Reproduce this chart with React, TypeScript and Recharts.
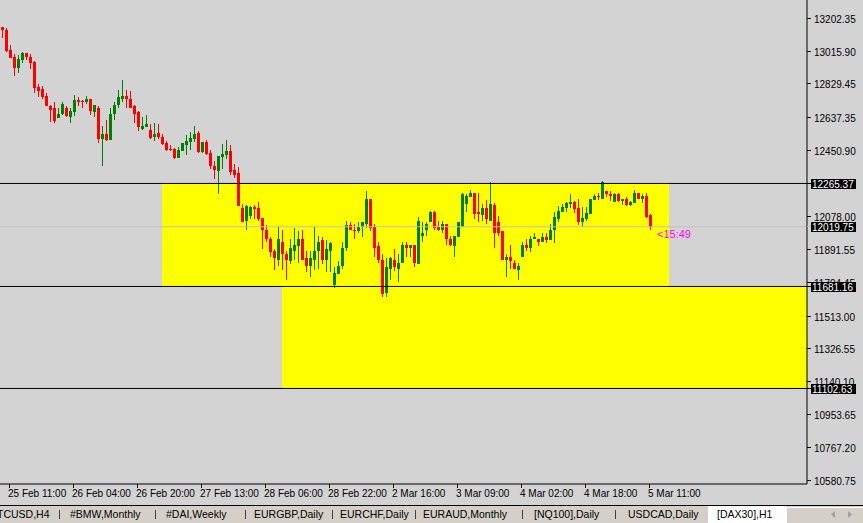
import { ComposedChart, Bar, XAxis, YAxis, ReferenceArea, ReferenceLine, ReferenceDot } from 'recharts'

// [DAX30],H1 candles, oldest first
const opens = [
  13150, 13133, 13020, 12980, 12919, 12965, 13003, 12984, 12952, 12810, 12799, 12759, 12706, 12691, 12636, 12657, 12696, 12640, 12668, 12736,
  12732, 12725, 12747, 12668, 12696, 12515, 12543, 12509, 12657, 12713, 12742, 12759, 12747, 12702, 12668, 12577, 12585, 12566, 12526, 12549,
  12526, 12492, 12462, 12462, 12409, 12449, 12481, 12500, 12515, 12549, 12441, 12498, 12436, 12367, 12335, 12413, 12424, 12447, 12339, 12322,
  12124, 12055, 12078, 12129, 12124, 12067, 12004, 11953, 11880, 11834, 11936, 11868, 11823, 11885, 11908, 11953, 11840, 11795, 11834, 11885,
  11942, 11829, 11880, 11687, 11749, 11795, 11897, 12027, 12004, 11993, 12016, 12038, 12175, 12016, 11908, 11834, 11643, 11783, 11834, 11783,
  11817, 11919, 11902, 11914, 11806, 11970, 12004, 12044, 12101, 12016, 11999, 12033, 11953, 11908, 11959, 12021, 12146, 12186, 12214, 12101,
  12084, 12124, 12055, 12141, 12044, 11993, 11829, 11851, 11812, 11772, 11846, 11914, 11897, 11948, 11953, 11936, 11959, 11942, 11999, 12061,
  12101, 12124, 12146, 12158, 12124, 12044, 12061, 12090, 12169, 12197, 12180, 12220, 12203, 12158, 12203, 12163, 12180, 12141, 12152, 12214,
  12175, 12197, 12084,
]
const highs = [
  13150, 13145, 13048, 12997, 12995, 13012, 13008, 12997, 12961, 12827, 12816, 12776, 12713, 12725, 12691, 12725, 12706, 12691, 12765, 12753,
  12740, 12759, 12747, 12713, 12702, 12589, 12623, 12691, 12725, 12798, 12850, 12798, 12787, 12708, 12679, 12640, 12651, 12602, 12611, 12600,
  12543, 12504, 12481, 12466, 12471, 12492, 12539, 12555, 12594, 12562, 12498, 12509, 12453, 12390, 12419, 12487, 12509, 12481, 12373, 12356,
  12146, 12141, 12135, 12141, 12158, 12067, 12027, 11959, 11891, 12021, 12004, 11880, 11948, 12010, 11993, 12004, 11880, 11880, 12016, 11965,
  11959, 11942, 11936, 11789, 11823, 11931, 12055, 12044, 12033, 12044, 12044, 12220, 12175, 12038, 11936, 11863, 11840, 11846, 11891, 11863,
  11936, 11936, 11919, 11919, 12073, 12044, 12044, 12107, 12107, 12050, 12055, 12033, 11970, 11965, 12044, 12209, 12203, 12226, 12214, 12214,
  12146, 12169, 12271, 12152, 12078, 11993, 11863, 11919, 11834, 11812, 11936, 11948, 11965, 11982, 11953, 11982, 11982, 12033, 12101, 12135,
  12146, 12158, 12203, 12163, 12175, 12129, 12129, 12175, 12203, 12209, 12282, 12220, 12220, 12209, 12209, 12180, 12186, 12163, 12226, 12214,
  12203, 12209, 12090,
]
const lows = [
  13090, 13010, 12976, 12874, 12891, 12948, 12965, 12914, 12778, 12755, 12747, 12704, 12613, 12606, 12636, 12651, 12645, 12607, 12647, 12702,
  12691, 12717, 12651, 12640, 12492, 12363, 12504, 12509, 12623, 12691, 12730, 12691, 12691, 12607, 12564, 12568, 12585, 12517, 12505, 12515,
  12483, 12451, 12449, 12405, 12409, 12449, 12426, 12453, 12498, 12437, 12436, 12428, 12346, 12288, 12203, 12345, 12402, 12311, 12299, 12135,
  12044, 12004, 12061, 12061, 12055, 11891, 11936, 11846, 11772, 11800, 11772, 11715, 11806, 11829, 11817, 11829, 11761, 11732, 11772, 11783,
  11806, 11761, 11761, 11670, 11749, 11783, 11885, 11999, 11948, 11987, 11959, 12010, 11993, 11851, 11812, 11624, 11624, 11715, 11766, 11704,
  11812, 11846, 11846, 11789, 11806, 11936, 11965, 12044, 12004, 11993, 11987, 11919, 11908, 11846, 11959, 12021, 12101, 12186, 12061, 12044,
  12055, 12038, 12055, 11902, 11965, 11829, 11732, 11783, 11778, 11715, 11846, 11880, 11874, 11948, 11908, 11931, 11925, 11942, 11925, 12044,
  12101, 12101, 12124, 12095, 12027, 12021, 12050, 12090, 12169, 12169, 12180, 12186, 12163, 12158, 12158, 12141, 12135, 12135, 12152, 12175,
  12152, 12067, 12004,
]
const closes = [
  13135, 13014, 12976, 12919, 12969, 13007, 12982, 12948, 12806, 12789, 12755, 12704, 12683, 12617, 12662, 12714, 12647, 12674, 12736, 12725,
  12725, 12746, 12674, 12708, 12515, 12543, 12509, 12662, 12713, 12753, 12759, 12742, 12692, 12662, 12587, 12590, 12600, 12521, 12543, 12526,
  12488, 12457, 12454, 12407, 12453, 12492, 12504, 12521, 12543, 12441, 12498, 12430, 12362, 12339, 12419, 12430, 12447, 12333, 12311, 12140,
  12044, 12135, 12129, 12118, 12061, 11999, 11948, 11874, 11840, 11948, 11863, 11829, 11897, 11914, 11953, 11834, 11795, 11840, 11885, 11936,
  11829, 11891, 11925, 11755, 11795, 11902, 12027, 12004, 11993, 12016, 12044, 12180, 12010, 11902, 11829, 11636, 11791, 11840, 11789, 11817,
  11919, 11902, 11914, 11812, 12055, 11982, 12033, 12101, 12010, 11999, 12033, 11953, 11914, 11965, 12044, 12203, 12192, 12214, 12090, 12090,
  12124, 12061, 12146, 11987, 11987, 11834, 11846, 11823, 11783, 11800, 11914, 11897, 11953, 11959, 11936, 11959, 11942, 12004, 12073, 12107,
  12129, 12152, 12158, 12118, 12044, 12067, 12095, 12175, 12197, 12186, 12271, 12203, 12192, 12203, 12163, 12180, 12141, 12158, 12214, 12180,
  12197, 12073, 12019.75,
]

// empty hourly slots kept to the right of the last bar (chart shift)
const futureBars = 38

const timeTickBars = [2, 18, 34, 50, 66, 82, 98, 114, 130, 146, 162]
const timeTickLabels = [
  '25 Feb 11:00', '26 Feb 04:00', '26 Feb 20:00', '27 Feb 13:00', '28 Feb 06:00', '28 Feb 22:00',
  '2 Mar 16:00', '3 Mar 09:00', '4 Mar 02:00', '4 Mar 18:00', '5 Mar 11:00',
]
const priceTicks = [
  13202.35, 13015.9, 12829.45, 12637.35, 12450.9, 12078.0, 11891.55, 11704.45, 11513.0, 11326.55, 11140.1, 10953.65,
  10767.2, 10580.75,
]
const levelPrices = [12265.37, 11681.16, 11102.63]
const bidPrice = 12019.75
const barTimer = '<15:49'

// rectangles: [from bar, to bar, upper price, lower price]
const zones: [number, number, number, number][] = [
  [40, 166.75, 12265.37, 11681.16],
  [70, 201.25, 11681.16, 11102.63],
]

const tabs = ['BTCUSD,H4', '#BMW,Monthly', '#DAI,Weekly', 'EURGBP,Daily', 'EURCHF,Daily', 'EURAUD,Monthly', '[NQ100],Daily', 'USDCAD,Daily', '[DAX30],H1']

const FONT = '"Liberation Sans", Arial, sans-serif'
const BG = '#d3d3d3'

const data = Array.from({ length: opens.length + futureBars }, (_, i) =>
  i < opens.length
    ? { i, o: opens[i], h: highs[i], l: lows[i], c: closes[i], range: [lows[i], highs[i]] }
    : { i },
)

function Candle(props: any) {
  const { x, width, payload } = props
  let { y, height } = props
  if (!payload || payload.o == null || y == null || height == null) return null
  if (height < 0) {
    y += height
    height = -height
  }
  const { o, h, l, c } = payload
  const cx = Math.round(x + width / 2)
  const span = h - l || 1
  const yAt = (v: number) => y + ((h - v) / span) * height
  const wickTop = Math.round(y)
  const wickBottom = Math.round(y + height)
  const top = Math.round(yAt(Math.max(o, c)))
  const bottom = Math.round(yAt(Math.min(o, c)))
  const color = c >= o ? '#008000' : '#ff0000'
  return (
    <g>
      <rect x={cx} y={wickTop} width={1} height={Math.max(1, wickBottom - wickTop)} fill={color} />
      <rect x={cx - 1} y={top} width={3} height={Math.max(1, bottom - top)} fill={color} />
    </g>
  )
}

function TimeTick({ x, y, payload }: any) {
  const idx = timeTickBars.indexOf(payload.value)
  const px = Math.floor(x) - 0.5
  return (
    <g>
      <line x1={px} x2={px} y1={y} y2={y + 4} stroke="#000" />
      <text x={x - 2} y={y + 13} fontSize={10} fontFamily={FONT} fill="#000" textAnchor="start">
        {timeTickLabels[idx]}
      </text>
    </g>
  )
}

function PriceTick({ x, y, payload }: any) {
  const v = payload.value
  const py = Math.floor(y) + 0.5
  const boxed = levelPrices.includes(v) || v === bidPrice
  if (boxed) {
    return (
      <g>
        <line x1={x} x2={x + 4} y1={py} y2={py} stroke={v === bidPrice ? '#c0c0c0' : '#000'} />
        <rect x={x + 4} y={Math.floor(y) - 4} width={45} height={10} fill="#000" />
        <text x={x + 5} y={py + 4} fontSize={10} fontFamily={FONT} fill="#fff" textAnchor="start">
          {v.toFixed(2)}
        </text>
      </g>
    )
  }
  return (
    <g>
      <line x1={x} x2={x + 4} y1={py} y2={py} stroke="#000" />
      <text x={x + 7} y={py + 4} fontSize={10} fontFamily={FONT} fill="#000" textAnchor="start">
        {v.toFixed(2)}
      </text>
    </g>
  )
}

function TabBar() {
  // left edge of each tab label, separators sit between them
  const lefts = [-10, 70, 166, 254, 340, 423, 534, 628, 717]
  const seps = [59, 155, 245, 332, 415, 522, 615]
  return (
    <div
      style={{
        position: 'relative',
        width: 863,
        height: 18,
        background: '#d4d0c8',
        borderTop: '1px solid #000',
        boxSizing: 'border-box',
        overflow: 'hidden',
        fontFamily: FONT,
        fontSize: 10.5,
      }}
    >
      <div style={{ position: 'absolute', left: 708, top: 0, width: 78, height: 17, background: '#fff' }} />
      <div
        style={{
          position: 'absolute',
          left: 786,
          top: 1,
          width: 77,
          height: 16,
          boxSizing: 'border-box',
          borderTop: '1px solid #fff',
          borderLeft: '1px solid #fff',
          background: '#d4d0c8',
        }}
      />
      {seps.map((s) => (
        <div key={s} style={{ position: 'absolute', left: s, top: 4, width: 1, height: 9, background: '#404040' }} />
      ))}
      {tabs.map((t, i) => (
        <span key={t} style={{ position: 'absolute', left: lefts[i], top: 2, whiteSpace: 'nowrap', color: '#000' }}>
          {t}
        </span>
      ))}
      <svg style={{ position: 'absolute', left: 830, top: 5 }} width={24} height={8}>
        <polygon points="5,0 5,7 1,3.5" fill="#a0a0a0" />
        <polygon points="18,0 18,7 22,3.5" fill="#a0a0a0" />
      </svg>
    </div>
  )
}

export default function App() {
  return (
    <div style={{ position: 'absolute', left: 0, top: 0, width: 863, height: 523, background: BG }}>
      <ComposedChart width={863} height={505} data={data} margin={{ top: 0, right: 0, bottom: 0, left: 0 }}>
        <XAxis
          xAxisId="time"
          dataKey="i"
          type="number"
          domain={[-0.5, 201.25]}
          allowDataOverflow
          ticks={timeTickBars}
          interval={0}
          height={21}
          axisLine={{ stroke: '#000' }}
          tickLine={false}
          tickSize={0}
          tickMargin={0}
          tick={<TimeTick />}
        />
        <XAxis xAxisId="bars" dataKey="i" type="category" hide height={0} padding={{ left: 0, right: 3 }} />
        <YAxis
          orientation="right"
          type="number"
          width={56}
          domain={[10560.8, 13305.8]}
          allowDataOverflow
          ticks={[...priceTicks, ...levelPrices, bidPrice]}
          interval={0}
          axisLine={{ stroke: '#000' }}
          tickLine={false}
          tickSize={0}
          tickMargin={0}
          tick={<PriceTick />}
        />
        {zones.map(([from, to, hi, lo], k) => (
          <ReferenceArea
            key={k}
            xAxisId="time"
            x1={from}
            x2={to}
            y1={lo}
            y2={hi}
            fill="#ffff00"
            fillOpacity={1}
            stroke="none"
          />
        ))}
        <ReferenceLine xAxisId="time" y={bidPrice} stroke="#c0c0c0" strokeWidth={1} />
        {levelPrices.map((p) => (
          <ReferenceLine key={p} xAxisId="time" y={p} stroke="#000" strokeWidth={1} />
        ))}
        <ReferenceDot
          xAxisId="time"
          x={163.75}
          y={bidPrice}
          r={0}
          shape={(p: any) => (
            <text x={p.cx} y={p.cy + 11} fontSize={11} fontFamily={FONT} fill="#ff00ff">
              {barTimer}
            </text>
          )}
        />
        <Bar xAxisId="bars" dataKey="range" shape={<Candle />} isAnimationActive={false} />
      </ComposedChart>
      <TabBar />
    </div>
  )
}
